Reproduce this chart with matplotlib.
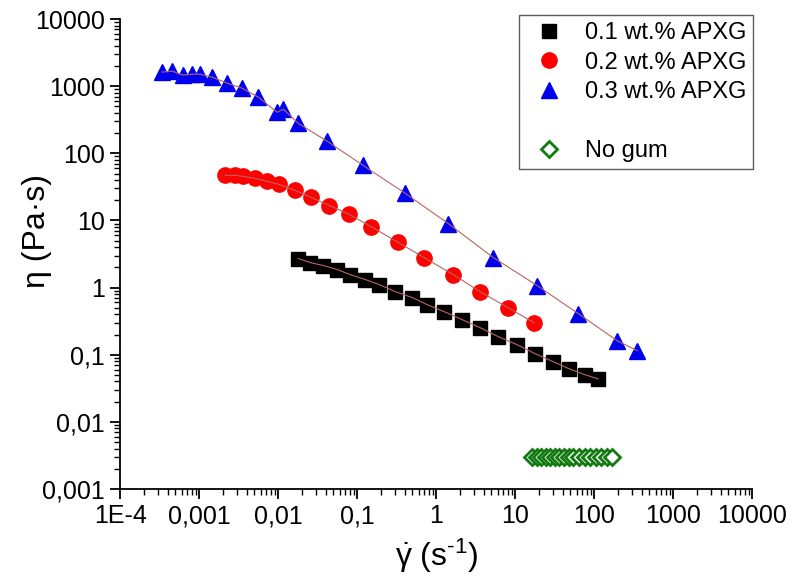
import matplotlib
matplotlib.use("Agg")
import matplotlib.pyplot as plt
from matplotlib.lines import Line2D
from matplotlib.ticker import FixedLocator, LogLocator, NullFormatter

plt.rcParams['font.family'] = ['Liberation Sans', 'DejaVu Sans']
plt.rcParams['mathtext.fontset'] = 'custom'
plt.rcParams['mathtext.rm'] = 'Liberation Sans'
plt.rcParams['mathtext.it'] = 'Liberation Sans:italic'

# shear rate (1/s) and viscosity (Pa.s)
rate_01 = [0.0179, 0.0254, 0.0372, 0.0558, 0.0814, 0.126, 0.190, 0.303, 0.497, 0.769,
           1.26, 2.13, 3.6, 6.1, 10.6, 17.9, 30.3, 48.3, 76.9, 112]
visc_01 = [2.71, 2.36, 2.13, 1.86, 1.56, 1.32, 1.11, 0.87, 0.71, 0.557,
           0.438, 0.333, 0.253, 0.186, 0.141, 0.1035, 0.0787, 0.0618, 0.0502, 0.0438]

rate_02 = [0.00213, 0.00286, 0.0036, 0.0051, 0.0073, 0.0103, 0.0164, 0.0262, 0.0443,
           0.0793, 0.150, 0.330, 0.705, 1.64, 3.6, 8.15, 17.4]
visc_02 = [47, 47, 45.4, 42.4, 38.2, 34.4, 28, 22, 16.7,
           12.3, 8.1, 4.7, 2.8, 1.56, 0.87, 0.50, 0.30]

rate_03 = [0.00034, 0.000455, 0.00063, 0.00081, 0.00103, 0.00146, 0.00226, 0.0035, 0.0056,
           0.0097, 0.0116, 0.0179, 0.0417, 0.119, 0.406, 1.42, 5.27, 19, 62.7, 195, 350]
visc_03 = [1620, 1675, 1460, 1510, 1510, 1360, 1110, 933, 685,
           409, 454, 280, 151, 66, 25.3, 9.0, 2.8, 1.07, 0.41, 0.162, 0.115]

rate_ng = [16.4, 18.7, 21.4, 24.4, 27.9, 31.8, 36.3, 41.5, 47.4, 54.1,
           65, 76, 89, 104, 121, 143, 168]
visc_ng = [0.003] * 17

x_ticks = [1e-4, 1e-3, 1e-2, 1e-1, 1, 10, 100, 1000, 10000]
x_labels = ['1E-4', '0,001', '0,01', '0,1', '1', '10', '100', '1000', '10000']
y_ticks = [1e-3, 1e-2, 1e-1, 1, 10, 100, 1000, 10000]
y_labels = ['0,001', '0,01', '0,1', '1', '10', '100', '1000', '10000']

fig = plt.figure(figsize=(7.91, 5.86), dpi=100)
ax = fig.add_axes([0.152, 0.1655, 0.799, 0.802])

fit_col = '#b86464'
ax.plot(rate_01, visc_01, 's', color='black', ms=10, zorder=3)
ax.plot(rate_02, visc_02, 'o', color='#ff0000', ms=11, zorder=3)
ax.plot(rate_03, visc_03, '^', color='#0000ee', ms=12, zorder=3)
ax.plot(rate_ng, visc_ng, 'D', mfc='white', mec='#117a11', mew=2, ms=8, zorder=3)
for xs, ys in [(rate_01, visc_01), (rate_02, visc_02), (rate_03, visc_03)]:
    ax.plot(xs, ys, '-', color=fit_col, lw=0.8, zorder=4)

ax.set_xscale('log')
ax.set_yscale('log')
ax.set_xlim(1e-4, 1e4)
ax.set_ylim(1e-3, 1e4)

ax.xaxis.set_major_locator(FixedLocator(x_ticks))
ax.set_xticklabels(x_labels)
ax.yaxis.set_major_locator(FixedLocator(y_ticks))
ax.set_yticklabels(y_labels)
for axis in (ax.xaxis, ax.yaxis):
    axis.set_minor_locator(LogLocator(base=10, subs=range(2, 10), numticks=20))
    axis.set_minor_formatter(NullFormatter())

ax.spines['top'].set_visible(False)
ax.spines['right'].set_visible(False)
for s in ('left', 'bottom'):
    ax.spines[s].set_linewidth(1.3)
ax.tick_params(which='major', direction='out', length=7, width=1.3, labelsize=18, pad=4)
ax.tick_params(which='minor', direction='out', length=4, width=1.0)

ax.set_xlabel(r'$\dot{\mathrm{\gamma}}$ (s$^{\text{-1}}$)', fontsize=23, labelpad=6)
ax.set_ylabel('η (Pa·s)', fontsize=23)
ax.yaxis.set_label_coords(-0.108, 0.55)

handles = [
    Line2D([], [], ls='', marker='s', color='black', ms=10),
    Line2D([], [], ls='', marker='o', color='#ff0000', ms=11),
    Line2D([], [], ls='', marker='^', color='#0000ee', ms=12),
    Line2D([], [], ls='', marker=''),
    Line2D([], [], ls='', marker='D', mfc='white', mec='#117a11', mew=2, ms=8),
]
labels = ['0.1 wt.% APXG', '0.2 wt.% APXG', '0.3 wt.% APXG', ' ', 'No gum']
leg = ax.legend(handles, labels, loc='upper right', bbox_to_anchor=(1.0016, 1.0085),
                fontsize=17, frameon=True, fancybox=False, edgecolor='#333333',
                labelspacing=0.32, handlelength=2.0, handletextpad=0.5,
                borderpad=0.3, borderaxespad=0)
leg.get_frame().set_linewidth(1.0)

fig.savefig('out.png', dpi=100)
